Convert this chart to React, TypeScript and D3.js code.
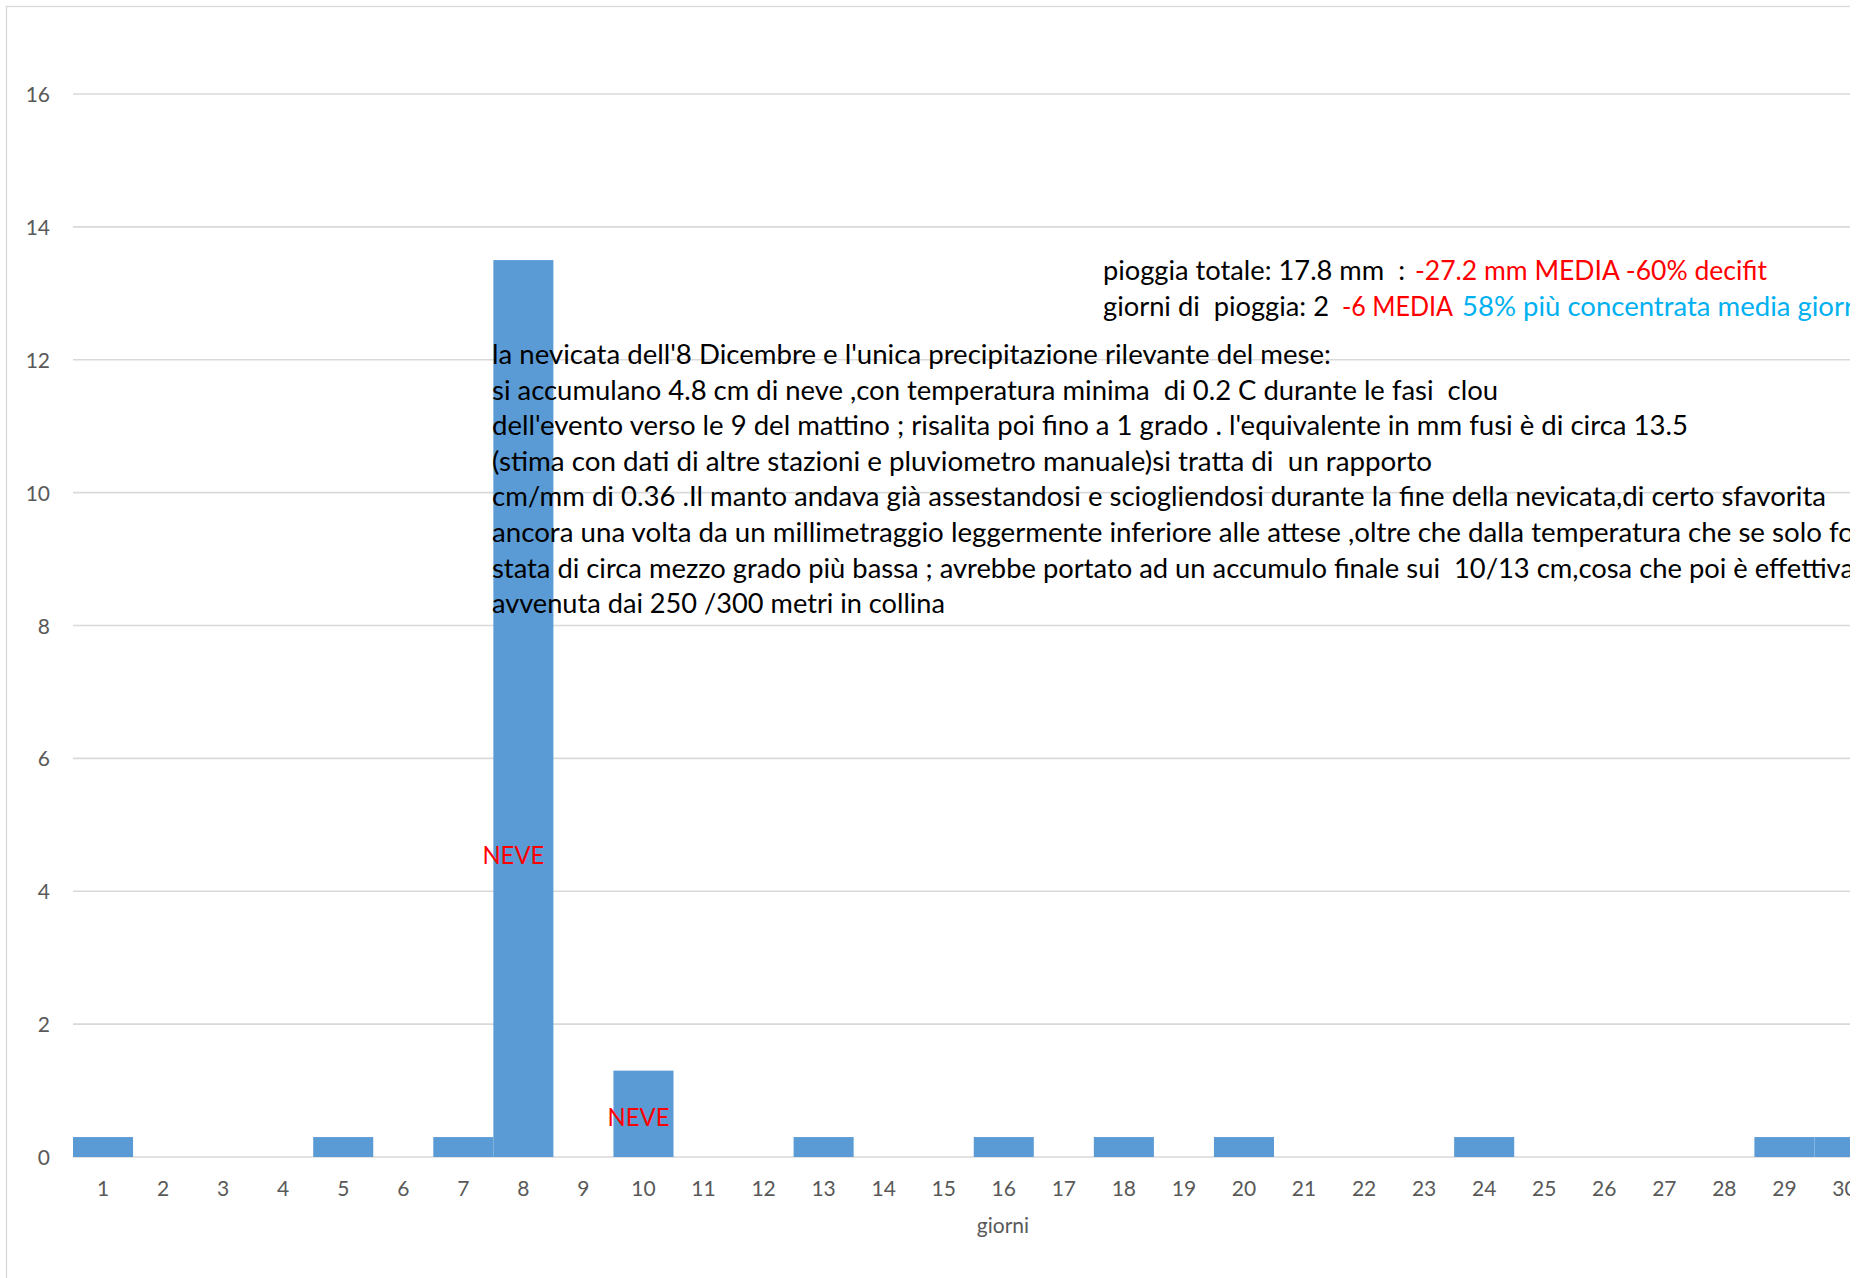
import { useEffect, useRef } from 'react';
import * as d3 from 'd3';

// daily precipitation (mm), December
const days = ['1', '2', '3', '4', '5', '6', '7', '8', '9', '10', '11', '12', '13', '14', '15',
    '16', '17', '18', '19', '20', '21', '22', '23', '24', '25', '26', '27', '28', '29', '30'];
const rainfall = [0.3, 0, 0, 0, 0.3, 0, 0.3, 13.5, 0, 1.3, 0, 0, 0.3, 0, 0, 0.3, 0, 0.3, 0, 0.3,
    0, 0, 0, 0.3, 0, 0, 0, 0, 0.3, 0.3];
const yTicks = [0, 2, 4, 6, 8, 10, 12, 14, 16];

// "NEVE" labels: day and the value where the label sits
const snowDays = ['8', '10'];
const snowLabelAt = [4.55, 0.6];

const noteLines = [
    "la nevicata dell'8 Dicembre e l'unica precipitazione rilevante del mese:",
    "si accumulano 4.8 cm di neve ,con temperatura minima  di 0.2 C durante le fasi  clou",
    "dell'evento verso le 9 del mattino ; risalita poi fino a 1 grado . l'equivalente in mm fusi è di circa 13.5",
    "(stima con dati di altre stazioni e pluviometro manuale)si tratta di  un rapporto",
    "cm/mm di 0.36 .Il manto andava già assestandosi e sciogliendosi durante la fine della nevicata,di certo sfavorita",
    "ancora una volta da un millimetraggio leggermente inferiore alle attese ,oltre che dalla temperatura che se solo fo",
    "stata di circa mezzo grado più bassa ; avrebbe portato ad un accumulo finale sui  10/13 cm,cosa che poi è effettiva",
    "avvenuta dai 250 /300 metri in collina",
];

const summaryLine1 = ['pioggia totale: 17.8 mm  :', '-27.2 mm MEDIA -60% decifit'];
const summaryLine2 = ['giorni di  pioggia: 2', '-6 MEDIA', '58% più concentrata media giorr'];

// layout (pixel widths measured on the reference)
const noteWidths = [839, 1006, 1196, 940, 1334, 1362, 1362, 453];
const FONT = 'Lato, "Open Sans", sans-serif';

const App = () => {
    const svgRef = useRef<SVGSVGElement | null>(null);

    useEffect(() => {
        if (!svgRef.current) return;
        const svg = d3.select(svgRef.current);
        svg.selectAll('*').remove();

        const width = 1872;
        const height = 1278;
        const clipRight = 1850;

        const x = d3.scaleBand<string>()
            .domain(days)
            .range([73, 73 + 30 * 60.05])
            .padding(0);

        const y = d3.scaleLinear()
            .domain([0, 16])
            .range([1157, 94]);

        svg.append('defs').append('clipPath')
            .attr('id', 'cut')
            .append('rect')
            .attr('x', 0).attr('y', 0)
            .attr('width', clipRight).attr('height', height);

        const g = svg.append('g').attr('clip-path', 'url(#cut)');

        // chart border
        g.append('rect')
            .attr('x', 6.5).attr('y', 6.5)
            .attr('width', width).attr('height', height + 20)
            .attr('fill', 'white')
            .attr('stroke', '#d9d9d9')
            .attr('stroke-width', 1.3);

        // gridlines
        g.append('g')
            .selectAll('line')
            .data(yTicks)
            .join('line')
            .attr('x1', 73)
            .attr('x2', 1882)
            .attr('y1', d => y(d))
            .attr('y2', d => y(d))
            .attr('stroke', '#d9d9d9')
            .attr('stroke-width', 1.6);

        // y tick labels
        g.append('g')
            .selectAll('text')
            .data(yTicks)
            .join('text')
            .attr('x', 50)
            .attr('y', d => y(d) + 8)
            .attr('text-anchor', 'end')
            .attr('font-family', FONT)
            .attr('font-size', 21)
            .attr('fill', '#595959')
            .text(d => d);

        // bars
        g.append('g')
            .selectAll('rect')
            .data(rainfall)
            .join('rect')
            .attr('x', (d, i) => x(days[i]) as number)
            .attr('y', d => y(d))
            .attr('width', x.bandwidth())
            .attr('height', d => y(0) - y(d))
            .attr('fill', '#5b9bd5');

        // x tick labels
        g.append('g')
            .selectAll('text')
            .data(days)
            .join('text')
            .attr('x', d => (x(d) as number) + x.bandwidth() / 2)
            .attr('y', 1196)
            .attr('text-anchor', 'middle')
            .attr('font-family', FONT)
            .attr('font-size', 21)
            .attr('fill', '#595959')
            .text(d => d);

        // axis title
        g.append('text')
            .attr('x', 1003)
            .attr('y', 1233)
            .attr('text-anchor', 'middle')
            .attr('font-family', FONT)
            .attr('font-size', 21)
            .attr('fill', '#595959')
            .text('giorni');

        // NEVE labels
        g.append('g')
            .selectAll('text')
            .data(snowDays)
            .join('text')
            .attr('x', (d, i) => (x(d) as number) + x.bandwidth() / 2 - (i === 0 ? 10 : 5))
            .attr('y', (d, i) => y(snowLabelAt[i]) + 9)
            .attr('text-anchor', 'middle')
            .attr('font-family', FONT)
            .attr('font-size', 25)
            .attr('textLength', 62)
            .attr('lengthAdjust', 'spacingAndGlyphs')
            .attr('fill', '#ff0000')
            .text('NEVE');

        // long note
        g.append('g')
            .selectAll('text')
            .data(noteLines)
            .join('text')
            .attr('x', 492)
            .attr('y', (d, i) => 364 + i * 35.6)
            .attr('font-family', FONT)
            .attr('font-size', 26)
            .attr('fill', '#000000')
            .attr('textLength', (d, i) => noteWidths[i])
            .attr('lengthAdjust', 'spacingAndGlyphs')
            .style('white-space', 'pre')
            .text(d => d);

        // summary lines
        const summary = [
            { t: summaryLine1[0], x: 1103, w: 302, y: 280, c: '#000000' },
            { t: summaryLine1[1], x: 1415, w: 352, y: 280, c: '#ff0000' },
            { t: summaryLine2[0], x: 1103, w: 226, y: 316, c: '#000000' },
            { t: summaryLine2[1], x: 1342, w: 111, y: 316, c: '#ff0000' },
            { t: summaryLine2[2], x: 1462, w: 392, y: 316, c: '#00b0f0' },
        ];
        g.append('g')
            .selectAll('text')
            .data(summary)
            .join('text')
            .attr('x', d => d.x)
            .attr('y', d => d.y)
            .attr('font-family', FONT)
            .attr('font-size', 26)
            .attr('fill', d => d.c)
            .attr('textLength', d => d.w)
            .attr('lengthAdjust', 'spacingAndGlyphs')
            .style('white-space', 'pre')
            .text(d => d.t);
    }, []);

    return (
        <svg
            ref={svgRef}
            width={1872}
            height={1278}
            style={{ position: 'absolute', left: 0, top: 0, background: 'white' }}
        />
    );
};

export default App;
